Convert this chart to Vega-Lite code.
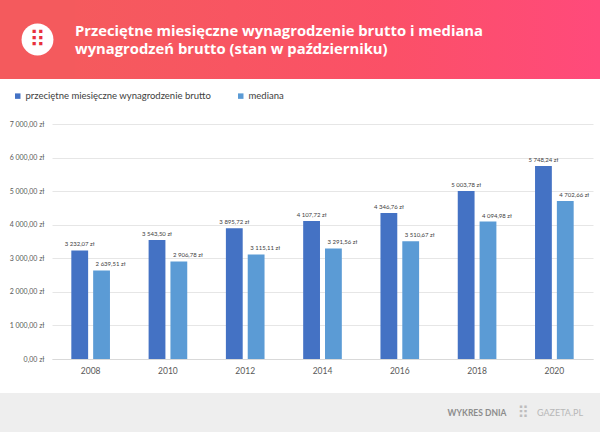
{
  "$schema": "https://vega.github.io/schema/vega-lite/v6.json",
  "padding": 0,
  "background": "white",
  "datasets": {
    "wages": [
      {"year": "2008", "series": "przeciętne miesięczne wynagrodzenie brutto", "value": 3232.07},
      {"year": "2008", "series": "mediana", "value": 2639.51},
      {"year": "2010", "series": "przeciętne miesięczne wynagrodzenie brutto", "value": 3543.50},
      {"year": "2010", "series": "mediana", "value": 2906.78},
      {"year": "2012", "series": "przeciętne miesięczne wynagrodzenie brutto", "value": 3895.72},
      {"year": "2012", "series": "mediana", "value": 3115.11},
      {"year": "2014", "series": "przeciętne miesięczne wynagrodzenie brutto", "value": 4107.72},
      {"year": "2014", "series": "mediana", "value": 3291.56},
      {"year": "2016", "series": "przeciętne miesięczne wynagrodzenie brutto", "value": 4346.76},
      {"year": "2016", "series": "mediana", "value": 3510.67},
      {"year": "2018", "series": "przeciętne miesięczne wynagrodzenie brutto", "value": 5003.78},
      {"year": "2018", "series": "mediana", "value": 4094.98},
      {"year": "2020", "series": "przeciętne miesięczne wynagrodzenie brutto", "value": 5748.24},
      {"year": "2020", "series": "mediana", "value": 4702.66}
    ],
    "deco": [{"k": 1}]
  },
  "spacing": 0,
  "resolve": {"scale": {"color": "independent"}, "legend": {"color": "independent"}},
  "vconcat": [
    {
      "spacing": 0,
      "hconcat": [
        {
          "width": 75,
          "height": 79,
          "data": {"name": "deco"},
          "layer": [
            {"mark": {"type": "rect", "color": "#f45a5d"}},
            {"mark": {"type": "circle", "size": 1018, "color": "white", "opacity": 1}},
            {"mark": {"type": "text", "text": "⠿", "font": "DejaVu Sans", "fontSize": 22, "color": "#e8303d", "baseline": "middle", "align": "center"}}
          ]
        },
        {
          "width": 525,
          "height": 79,
          "data": {"name": "deco"},
          "title": {
            "text": ["Przeciętne miesięczne wynagrodzenie brutto i mediana", "wynagrodzeń brutto (stan w październiku)"],
            "anchor": "start",
            "orient": "top",
            "frame": "group",
            "offset": -57,
            "color": "white",
            "font": "Open Sans",
            "fontSize": 14.8,
            "fontWeight": "bold",
            "lineHeight": 18.5
          },
          "mark": {
            "type": "rect",
            "color": {
              "gradient": "linear",
              "x1": 0, "y1": 0, "x2": 1, "y2": 0,
              "stops": [
                {"offset": 0, "color": "#f55a5d"},
                {"offset": 0.6, "color": "#fb5067"},
                {"offset": 1, "color": "#ff4a7b"}
              ]
            }
          }
        }
      ]
    },
    {
      "spacing": 18,
      "resolve": {"scale": {"color": "independent"}, "legend": {"color": "independent"}},
      "vconcat": [
        {
          "spacing": 0,
          "resolve": {"scale": {"color": "independent"}, "legend": {"color": "independent"}},
          "hconcat": [
            {"width": 1, "height": 235, "data": {"name": "deco"}, "mark": {"type": "rect", "color": "white", "opacity": 0}},
            {
              "width": 541,
              "height": 235,
              "data": {"name": "wages"},
              "encoding": {
                "x": {
                  "field": "year",
                  "type": "nominal",
                  "scale": {"paddingInner": 0.5, "paddingOuter": 0.25},
                  "axis": {"title": null, "labelAngle": 0, "ticks": false, "domainColor": "#d9d9d9", "labelPadding": 7, "labelFontSize": 8.5, "labelColor": "#595959"}
                },
                "xOffset": {
                  "field": "series",
                  "type": "nominal",
                  "sort": ["przeciętne miesięczne wynagrodzenie brutto", "mediana"],
                  "scale": {"paddingInner": 0.23}
                },
                "y": {
                  "field": "value",
                  "type": "quantitative",
                  "scale": {"domain": [0, 7000], "nice": false},
                  "axis": {
                    "title": null,
                    "values": [0, 1000, 2000, 3000, 4000, 5000, 6000, 7000],
                    "format": "$,.2f",
                    "domain": false,
                    "ticks": false,
                    "gridColor": "#e6e6e6",
                    "labelPadding": 8,
                    "labelFontSize": 7,
                    "labelColor": "#595959"
                  }
                },
                "color": {
                  "field": "series",
                  "type": "nominal",
                  "sort": ["przeciętne miesięczne wynagrodzenie brutto", "mediana"],
                  "scale": {"domain": ["przeciętne miesięczne wynagrodzenie brutto", "mediana"], "range": ["#4472c4", "#5b9bd5"]},
                  "legend": {
                    "title": null,
                    "orient": "none",
                    "legendX": -51,
                    "legendY": -45,
                    "padding": 12,
                    "direction": "horizontal",
                    "symbolType": "square",
                    "symbolSize": 30,
                    "symbolStrokeWidth": 0,
                    "labelFontSize": 9.5,
                    "labelLimit": 0,
                    "labelColor": "#404040",
                    "labelOffset": 3,
                    "columnPadding": 24
                  }
                }
              },
              "layer": [
                {"mark": {"type": "bar"}},
                {
                  "transform": [{"filter": "datum.series !== 'mediana'"}],
                  "mark": {"type": "text", "dy": -3, "fontSize": 6, "baseline": "bottom"},
                  "encoding": {
                    "text": {"field": "value", "type": "quantitative", "format": "$,.2f"},
                    "color": {"value": "#404040"}
                  }
                },
                {
                  "transform": [{"filter": "datum.series === 'mediana'"}],
                  "mark": {"type": "text", "dy": -3, "dx": 9, "fontSize": 6, "baseline": "bottom"},
                  "encoding": {
                    "text": {"field": "value", "type": "quantitative", "format": "$,.2f"},
                    "color": {"value": "#404040"}
                  }
                }
              ]
            }
          ]
        },
        {
          "spacing": 0,
          "hconcat": [
            {"width": 442, "height": 40, "data": {"name": "deco"}, "mark": {"type": "rect", "color": "#eeeeee"}},
            {
              "width": 70, "height": 40, "data": {"name": "deco"},
              "layer": [
                {"mark": {"type": "rect", "color": "#eeeeee"}},
                {"mark": {"type": "text", "text": "WYKRES DNIA", "fontSize": 8.5, "fontWeight": "bold", "color": "#8c8c8c", "align": "center", "baseline": "middle"}}
              ]
            },
            {
              "width": 22, "height": 40, "data": {"name": "deco"},
              "layer": [
                {"mark": {"type": "rect", "color": "#eeeeee"}},
                {"mark": {"type": "text", "text": "⠿", "font": "DejaVu Sans", "fontSize": 16, "color": "#bdbdbd", "align": "center", "baseline": "middle"}}
              ]
            },
            {
              "width": 52, "height": 40, "data": {"name": "deco"},
              "layer": [
                {"mark": {"type": "rect", "color": "#eeeeee"}},
                {"mark": {"type": "text", "text": "GAZETA.PL", "fontSize": 9, "color": "#b8b8b8", "align": "center", "baseline": "middle"}}
              ]
            },
            {"width": 14, "height": 40, "data": {"name": "deco"}, "mark": {"type": "rect", "color": "#eeeeee"}}
          ]
        }
      ]
    }
  ],
  "config": {
    "font": "Lato",
    "view": {"stroke": null},
    "concat": {"spacing": 0},
    "locale": {
      "number": {"decimal": ",", "thousands": " ", "grouping": [3], "currency": ["", " zł"]}
    }
  }
}
